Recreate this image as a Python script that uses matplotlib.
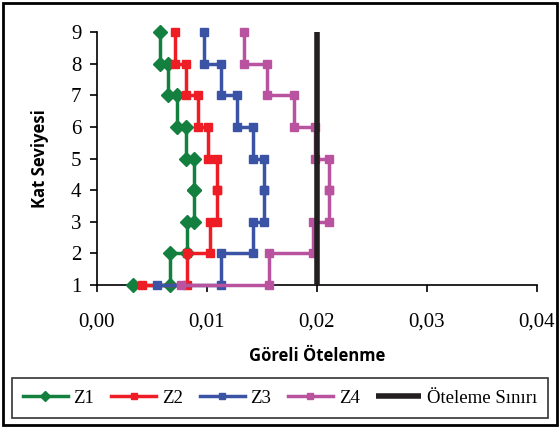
import matplotlib
matplotlib.use("Agg")
import matplotlib.pyplot as plt
from matplotlib.patches import Rectangle

floors = [1, 2, 3, 4, 5, 6, 7, 8, 9]
# starting value at floor 1, then story drift values (vertical segments between floors)
z1_start = 0.0033
z1_drift = [0.0066, 0.0082, 0.0088, 0.0088, 0.0081, 0.0073, 0.0065, 0.0057]
z2_start = 0.0041
z2_drift = [0.0082, 0.0103, 0.0109, 0.0109, 0.0101, 0.0092, 0.0081, 0.0071]
z3_start = 0.0055
z3_drift = [0.0113, 0.0142, 0.0152, 0.0152, 0.0142, 0.0127, 0.0113, 0.0097]
z4_start = 0.0076
z4_drift = [0.0156, 0.0196, 0.0211, 0.0211, 0.0198, 0.0179, 0.0155, 0.0134]
limit = 0.02
xticks = [0.00, 0.01, 0.02, 0.03, 0.04]
xtick_labels = ["0,00", "0,01", "0,02", "0,03", "0,04"]
labels = ["Z1", "Z2", "Z3", "Z4", "Öteleme Sınırı"]


def step_points(start, drift):
    xs, ys = [start], [floors[0]]
    for i, d in enumerate(drift):
        xs += [d, d]
        ys += [floors[i], floors[i + 1]]
    return xs, ys


fig = plt.figure(figsize=(5.6, 4.28), dpi=100)
ax = fig.add_axes([0.173, 0.334, 0.786, 0.591])

series = [
    (z1_start, z1_drift, "#14803F", "D", 7.5),
    (z2_start, z2_drift, "#EE1C25", "s", 6),
    (z3_start, z3_drift, "#3A53A4", "s", 6),
    (z4_start, z4_drift, "#B9539F", "s", 6),
]
handles = []
for (s, d, c, m, ms), lab in zip(series, labels[:4]):
    xs, ys = step_points(s, d)
    h, = ax.plot(xs, ys, color=c, lw=2.5, marker=m, ms=ms, mec=c, mfc=c,
                 clip_on=False, label=lab, zorder=3)
    handles.append(h)
hl, = ax.plot([limit, limit], [floors[0], floors[-1]], color="#231F20", lw=4,
              label=labels[4], zorder=4, solid_capstyle="butt")
handles.append(hl)

ax.set_xlim(0, 0.04)
ax.set_ylim(1, 9)
ax.set_xticks(xticks)
ax.set_xticklabels(xtick_labels)
ax.set_yticks(floors)
for sp in ["top", "right"]:
    ax.spines[sp].set_visible(False)
for sp in ["left", "bottom"]:
    ax.spines[sp].set_linewidth(1.2)
ax.tick_params(direction="out", length=5, width=1.2, labelsize=15, pad=6)
for t in ax.get_xticklabels() + ax.get_yticklabels():
    t.set_fontfamily("Liberation Serif")
ax.tick_params(axis="x", pad=15)

ax.set_xlabel("Göreli Ötelenme", fontsize=12, fontweight="bold",
              fontfamily="Open Sans", labelpad=11)
ax.set_ylabel("Kat Seviyesi", fontsize=12, fontweight="bold",
              fontfamily="Open Sans", labelpad=16)

leg = fig.legend(handles=handles, labels=labels, loc="center",
                 bbox_to_anchor=(0.5, 0.070), ncol=5, frameon=True,
                 fancybox=False, edgecolor="black", handlelength=2.4,
                 handletextpad=0.3, columnspacing=0.9, borderpad=0.6,
                 borderaxespad=0.3,
                 prop={"family": "Liberation Serif", "size": 13.5})
leg.get_frame().set_linewidth(1.2)
for lh in leg.legend_handles[:4]:
    lh.set_markersize(5)

fig.patches.append(Rectangle((0.006, 0.006), 0.988, 0.988, transform=fig.transFigure,
                             fill=False, ec="black", lw=2))
fig.savefig("out.png", dpi=100)
